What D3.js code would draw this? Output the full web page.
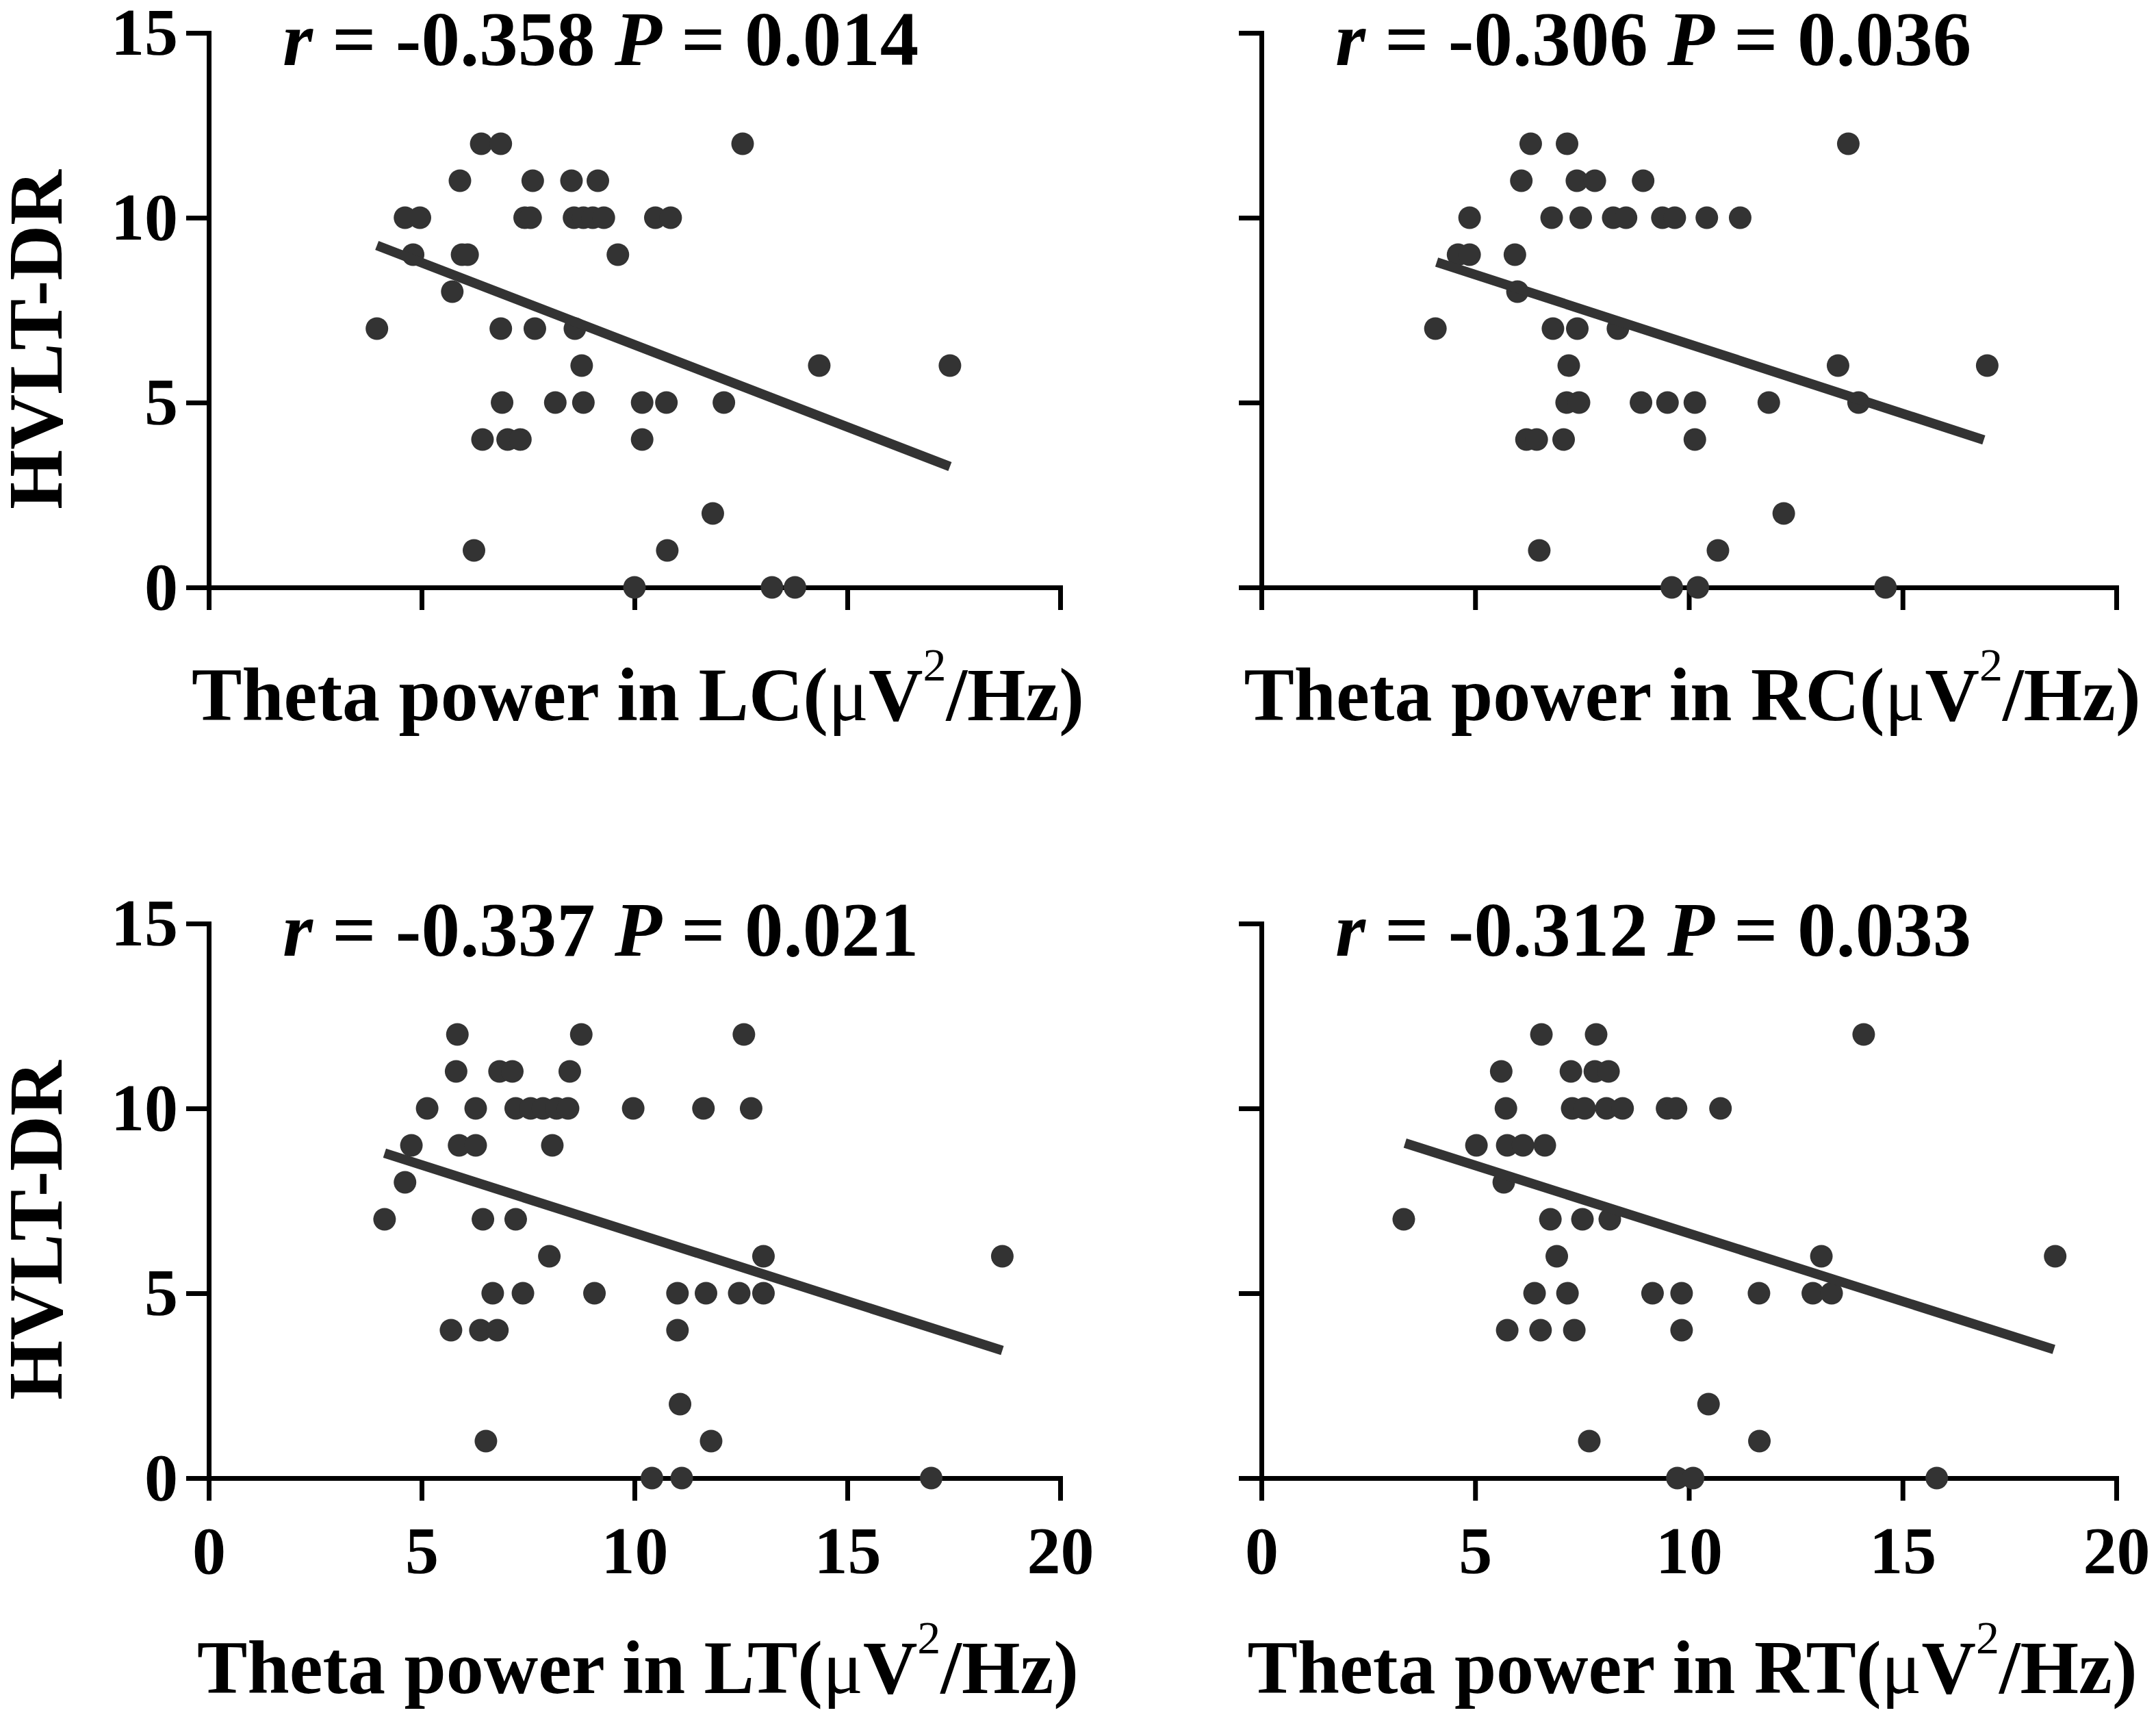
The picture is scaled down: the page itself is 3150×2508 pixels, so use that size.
<!DOCTYPE html>
<html>
<head>
<meta charset="utf-8">
<script src="https://cdn.jsdelivr.net/npm/d3@7"></script>
<style>
  body { margin: 0; background: #fff; }
  svg text { font-family: "Liberation Serif", "Times New Roman", serif; font-weight: bold; white-space: pre; }
</style>
</head>
<body>
<div id="chart"></div>
<script>
// Values (theta power vs HVLT-DR score)
const xTicks = [0, 5, 10, 15, 20];
const yTicks = [0, 5, 10, 15];
const regions = ["LC", "RC", "LT", "RT"];
const rValues = ["-0.358", "-0.306", "-0.337", "-0.312"];
const pValues = ["0.014", "0.036", "0.021", "0.033"];

const lcX = [3.95, 4.61, 4.96, 4.80, 5.72, 5.90, 5.95, 6.08, 6.40, 6.86, 6.43, 6.23, 6.89, 6.86, 7.02, 7.32, 7.42, 7.56, 7.61, 7.66, 8.14, 8.52, 8.58, 8.80, 9.02, 9.28, 9.14, 8.60, 8.76, 8.80, 9.61, 10.00, 10.18, 10.18, 10.49, 10.85, 10.75, 10.77, 11.84, 12.10, 12.54, 13.23, 13.77, 14.34, 17.41];
const lcY = [7, 10, 10, 9, 8, 11, 9, 9, 12, 12, 4, 1, 5, 7, 4, 4, 10, 10, 11, 7, 5, 11, 10, 10, 10, 10, 11, 7, 6, 5, 9, 0, 5, 4, 10, 10, 5, 1, 2, 5, 12, 0, 0, 6, 6];

const rcX = [4.07, 4.60, 4.87, 4.87, 5.93, 5.99, 6.08, 6.30, 7.15, 7.38, 7.80, 8.93, 6.79, 7.47, 8.23, 8.53, 9.38, 9.67, 10.42, 11.20, 6.82, 7.39, 8.34, 7.19, 7.14, 7.43, 8.88, 9.50, 10.14, 11.87, 6.20, 6.44, 7.07, 10.14, 6.50, 9.60, 10.21, 10.68, 12.22, 13.49, 13.73, 13.97, 14.60, 16.98];
const rcY = [7, 9, 9, 10, 9, 8, 11, 12, 12, 11, 11, 11, 10, 10, 10, 10, 10, 10, 10, 10, 7, 7, 7, 6, 5, 5, 5, 5, 5, 5, 4, 4, 4, 4, 1, 0, 0, 1, 2, 6, 12, 5, 0, 6];

const ltX = [5.84, 8.75, 5.81, 6.83, 7.13, 8.48, 5.13, 6.27, 7.21, 7.56, 7.85, 8.17, 8.44, 9.97, 11.62, 4.76, 5.88, 6.27, 8.07, 4.61, 4.13, 6.44, 7.21, 8.00, 6.67, 7.38, 9.06, 11.01, 11.68, 5.69, 6.38, 6.78, 11.01, 6.51, 10.41, 11.07, 11.11, 11.80, 12.46, 12.57, 12.74, 13.03, 13.03, 16.97, 18.64];
const ltY = [12, 12, 11, 11, 11, 11, 10, 10, 10, 10, 10, 10, 10, 10, 10, 9, 9, 9, 9, 8, 7, 7, 7, 6, 5, 5, 5, 5, 5, 4, 4, 4, 4, 1, 0, 2, 0, 1, 5, 12, 10, 6, 5, 0, 6];

const rtX = [6.55, 7.83, 5.61, 7.24, 7.80, 8.12, 5.72, 7.27, 7.56, 8.07, 8.45, 9.49, 9.70, 10.74, 5.03, 5.75, 6.12, 6.63, 5.67, 6.76, 7.51, 8.15, 6.91, 6.39, 7.16, 9.15, 9.83, 11.64, 5.75, 6.53, 7.32, 9.83, 3.33, 7.67, 9.73, 10.10, 10.46, 11.65, 12.90, 13.34, 13.10, 14.09, 15.80, 18.57];
const rtY = [12, 12, 11, 11, 11, 11, 10, 10, 10, 10, 10, 10, 10, 10, 9, 9, 9, 9, 8, 7, 7, 7, 6, 5, 5, 5, 5, 5, 4, 4, 4, 4, 7, 1, 0, 0, 2, 1, 5, 5, 6, 12, 0, 6];

// regression line end points as drawn
const lcFitX = [3.95, 17.41], lcFitY = [9.25, 3.27];
const rcFitX = [4.10, 16.90], rcFitY = [8.80, 3.99];
const ltFitX = [4.13, 18.64], ltFitY = [8.79, 3.45];
const rtFitX = [3.36, 18.54], rtFitY = [9.06, 3.48];

const W = 3150, H = 2508;
const ink = "#333333";

const svg = d3.select("#chart")
    .append("svg")
    .attr("width", W)
    .attr("height", H)
    .attr("viewBox", `0 0 ${W} ${H}`);

// panel layout: left/right column and top/bottom row
const cols = [{ x0: 305, x1: 1549 }, { x0: 1843, x1: 3092 }];
const rows = [{ y15: 48, y0: 858, titleY: 1052 }, { y15: 1349, y0: 2159, titleY: 2473 }];

const panels = [
    { xs: lcX, ys: lcY, fx: lcFitX, fy: lcFitY, col: 0, row: 0 },
    { xs: rcX, ys: rcY, fx: rcFitX, fy: rcFitY, col: 1, row: 0 },
    { xs: ltX, ys: ltY, fx: ltFitX, fy: ltFitY, col: 0, row: 1 },
    { xs: rtX, ys: rtY, fx: rtFitX, fy: rtFitY, col: 1, row: 1 }
];

panels.forEach((p, i) => {
    const c = cols[p.col], r = rows[p.row];
    const x = d3.scaleLinear().domain([0, 20]).range([c.x0, c.x1]);
    const y = d3.scaleLinear().domain([0, 15]).range([r.y0, r.y15]);
    const g = svg.append("g");

    // axes
    const xAxis = d3.axisBottom(x).tickValues(xTicks).tickSize(33).tickSizeOuter(0).tickPadding(36);
    if (p.row === 0) xAxis.tickFormat("");
    const yAxis = d3.axisLeft(y).tickValues(yTicks).tickSize(33).tickSizeOuter(0).tickPadding(12);
    if (p.col === 1) yAxis.tickFormat("");

    const gx = g.append("g").attr("transform", `translate(0,${r.y0})`).call(xAxis);
    const gy = g.append("g").attr("transform", `translate(${c.x0},0)`).call(yAxis);
    [gx, gy].forEach(a => {
        a.select(".domain").attr("stroke", "#000").attr("stroke-width", 7).attr("stroke-linecap", "square");
        a.selectAll(".tick line").attr("stroke", "#000").attr("stroke-width", 7);
        a.selectAll(".tick text")
            .attr("fill", "#000")
            .style("font-size", "98px")
            .style("font-family", "'Liberation Serif', 'Times New Roman', serif")
            .style("font-weight", "bold");
    });

    // points
    g.append("g").selectAll("circle")
        .data(p.xs.map((v, k) => [v, p.ys[k]]))
        .join("circle")
        .attr("cx", d => x(d[0]))
        .attr("cy", d => y(d[1]))
        .attr("r", 16.5)
        .attr("fill", ink);

    // regression line
    g.append("path")
        .datum([[p.fx[0], p.fy[0]], [p.fx[1], p.fy[1]]])
        .attr("d", d3.line().x(d => x(d[0])).y(d => y(d[1])))
        .attr("fill", "none")
        .attr("stroke", ink)
        .attr("stroke-width", 14);

    // r and P annotation
    const st = g.append("text")
        .attr("x", c.x0 + 108)
        .attr("y", r.y15 + 47)
        .style("font-size", "113px")
        .attr("fill", "#000");
    st.append("tspan").style("font-style", "italic").text("r");
    st.append("tspan").text(` = ${rValues[i]} `);
    st.append("tspan").style("font-style", "italic").text("P");
    st.append("tspan").text(` = ${pValues[i]}`);

    // x title
    const xt = g.append("text")
        .attr("x", (c.x0 + c.x1) / 2 + 5)
        .attr("y", r.titleY)
        .attr("text-anchor", "middle")
        .style("font-size", "110px")
        .attr("fill", "#000");
    xt.append("tspan").text(`Theta power in ${regions[i]}(`);
    xt.append("tspan").style("font-weight", "normal").text("μ");
    xt.append("tspan").text("V");
    xt.append("tspan").attr("dy", -58).style("font-size", "68px").style("font-weight", "normal").text("2");
    xt.append("tspan").attr("dy", 58).text("/Hz)");

    // y title on left column only
    if (p.col === 0) {
        g.append("text")
            .attr("transform", `translate(90,${(r.y0 + r.y15) / 2 + 43}) rotate(-90)`)
            .attr("text-anchor", "middle")
            .style("font-size", "112px")
            .attr("fill", "#000")
            .text("HVLT-DR");
    }
});
</script>
</body>
</html>
